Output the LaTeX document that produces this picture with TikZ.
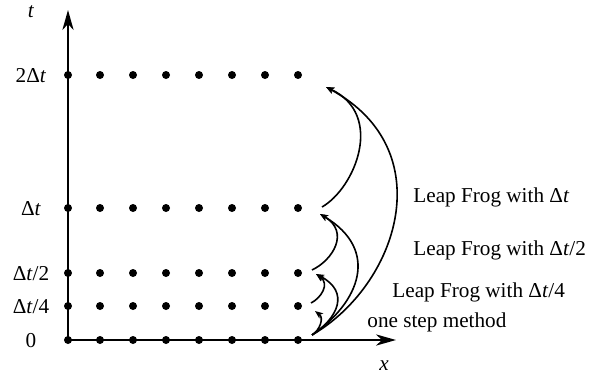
\documentclass[tikz,border=0pt]{standalone}
\usepackage{fontspec}
\setmainfont{Liberation Serif}
\usetikzlibrary{arrows.meta}
\newcommand\deltat{Δ\textit{t}}
\begin{document}
\begin{tikzpicture}[x=0.5pt, y=-0.5pt,
  lbl/.style={font=\fontsize{10.6}{12.7}\selectfont, inner sep=0pt, anchor=base},
  note/.style={lbl, anchor=base west},
  axis/.style={line width=1pt, -{Stealth[length=10pt, width=5.6pt, inset=3pt]}},
  gridpt/.style={circle, fill=black, inner sep=0pt, minimum size=4pt},
  hop/.style={line width=0.8pt, -{Stealth[length=4pt, width=3.2pt, inset=1pt]}}]
\useasboundingbox (0,0) rectangle (592,375);

% axes
\coordinate (O) at (68,340);
\coordinate (tend) at (68,10);
\coordinate (xend) at (396,340);
\draw[axis] (O) -- (tend);
\draw[axis] (O) -- (xend);

% grid of time levels
\foreach \r/\yy in {a/340, b/306, c/273, d/208, e/75}{
  \foreach \c/\xx in {1/68, 2/100, 3/133, 4/166, 5/199, 6/232, 7/265, 8/298}{
    \node[gridpt] (p\r\c) at (\xx,\yy) {};
  }
}

% axis labels
\node[lbl] (lt) at (31,18) {\textit{t}};
\node[lbl] (lx) at (384,370) {\textit{x}};
\node[lbl] (l0) at (31,347) {0};
\node[lbl] (l4) at (31,313) {\deltat/4};
\node[lbl] (l2) at (31,280) {\deltat/2};
\node[lbl] (l1) at (31,215) {\deltat};
\node[lbl] (l22) at (31,82) {2\deltat};

% start and end points of the steps
\coordinate (B)  at (312,335);
\coordinate (T1) at (315,311);
\coordinate (S1) at (311,303);
\coordinate (T2) at (316,274);
\coordinate (S2) at (312,270);
\coordinate (T3) at (320,214);
\coordinate (S3) at (322,207);
\coordinate (T4) at (326,87);

% one step method
\draw[hop] (B) .. controls (320,330) and (324,318) .. (T1);
% leap frog with dt/4
\draw[hop] (S1) .. controls (321,298) and (330,284) .. (T2);
\draw[hop] (B) .. controls (338,318) and (350,292) .. (T2);
% leap frog with dt/2
\draw[hop] (S2) .. controls (333,260) and (350,232) .. (T3);
\draw[hop] (B) .. controls (360,302) and (380,250) .. (T3);
% leap frog with dt
\draw[hop] (S3) .. controls (355,188) and (385,115) .. (T4);
\draw[hop] (B) .. controls (398,285) and (442,150) .. (T4);

% method labels
\node[note] (m1) at (413,202) {Leap Frog with \deltat};
\node[note] (m2) at (413,255) {Leap Frog with \deltat/2};
\node[note] (m3) at (392,297) {Leap Frog with \deltat/4};
\node[note] (m4) at (367,327) {one step method};
\end{tikzpicture}
\end{document}
